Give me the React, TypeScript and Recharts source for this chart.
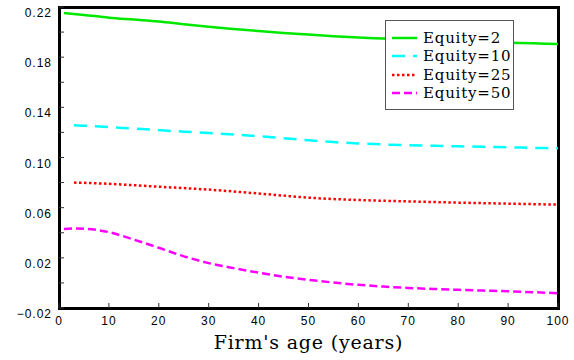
import { LineChart, Line, XAxis, YAxis, Legend, Label } from "recharts";

// firm age grid (years) shared by all four curves
const ages = [1, 3, 5, 10, 15, 20, 25, 30, 35, 40, 45, 50, 55, 60, 65, 70, 75, 80, 85, 90, 95, 100];

const equity2 = [0.2152, 0.2145, 0.2137, 0.2115, 0.21, 0.2085, 0.2063, 0.2043, 0.2025, 0.2008, 0.1993, 0.198, 0.1967, 0.1956, 0.1948, 0.194, 0.1933, 0.1926, 0.192, 0.1915, 0.191, 0.1905];
const equity10 = [null, 0.1257, 0.1254, 0.1243, 0.123, 0.1218, 0.1206, 0.1195, 0.1183, 0.117, 0.1154, 0.1137, 0.1123, 0.1112, 0.1104, 0.1098, 0.1093, 0.1089, 0.1085, 0.1081, 0.1077, 0.1073];
const equity25 = [null, 0.08, 0.0798, 0.079, 0.0779, 0.0767, 0.0756, 0.0744, 0.0729, 0.0713, 0.0696, 0.068, 0.0669, 0.0661, 0.0655, 0.065, 0.0645, 0.064, 0.0636, 0.0632, 0.0628, 0.0624];
const equity50 = [0.043, 0.0434, 0.0432, 0.0405, 0.0345, 0.028, 0.0212, 0.0158, 0.0118, 0.0082, 0.005, 0.0025, 0.0003, -0.0015, -0.0029, -0.004, -0.0048, -0.0055, -0.0061, -0.0067, -0.0074, -0.0082];

const xTicks = [0, 10, 20, 30, 40, 50, 60, 70, 80, 90, 100];
const yTicks = [-0.02, 0, 0.02, 0.04, 0.06, 0.08, 0.1, 0.12, 0.14, 0.16, 0.18, 0.2, 0.22];
const yLabelTicks = [-0.02, 0.02, 0.06, 0.1, 0.14, 0.18, 0.22];

const data = ages.map((age, i) => ({
  age,
  e2: equity2[i],
  e10: equity10[i],
  e25: equity25[i],
  e50: equity50[i],
}));

const series = [
  { key: "e2", name: "Equity=2", color: "#00e800", dash: undefined },
  { key: "e10", name: "Equity=10", color: "#00ffff", dash: "13 8" },
  { key: "e25", name: "Equity=25", color: "#ff0000", dash: "2.5 2.5" },
  { key: "e50", name: "Equity=50", color: "#ff00ff", dash: "8 4" },
];

const W = 574;
const H = 360;
const M = { top: 6, right: 15, bottom: 0, left: 0 };
const Y_AXIS_W = 59;
const X_AXIS_H = 52;
const FRAME_W = 3;

// plotting rectangle, derived from the chart margins and axis sizes
const plotLeft = M.left + Y_AXIS_W;
const plotTop = M.top + 1;
const plotRight = W - M.right - 1;
const plotBottom = H - M.bottom - X_AXIS_H;

const tickFont = "'Liberation Sans', Arial, sans-serif";
const serifFont = "'DejaVu Serif', serif";

const fmt = (v: number) => (v < 0 ? "\u2212" + (-v).toFixed(2) : v.toFixed(2));

const YTick = ({ x, y, payload }: any) => {
  const v = payload.value;
  if (!yLabelTicks.some((t) => Math.abs(t - v) < 1e-9)) return <g />;
  return (
    <text x={x} y={y + 10} textAnchor="end" fontSize={12} letterSpacing={1} fontFamily={tickFont} fill="#000">
      {fmt(v)}
    </text>
  );
};

const XTick = ({ x, y, payload }: any) => (
  <text x={x} y={y + 9} textAnchor="middle" fontSize={12} letterSpacing={1} fontFamily={tickFont} fill="#000">
    {payload.value}
  </text>
);

const LegendBox = () => (
  <div
    style={{
      border: "1px solid #555",
      background: "#fff",
      padding: "8px 0 7px 0",
      width: 127,
      boxSizing: "content-box",
    }}
  >
    {series.map((s) => (
      <div key={s.key} style={{ display: "flex", alignItems: "center", height: 18.3 }}>
        <svg width={25} height={4} style={{ marginLeft: 6, marginRight: 6 }}>
          <line x1={0} y1={2} x2={25} y2={2} stroke={s.color} strokeWidth={2.5} strokeDasharray={s.dash} />
        </svg>
        <span
          style={{ fontFamily: serifFont, fontSize: 15, letterSpacing: 0.8, color: "#000", lineHeight: "18px" }}
        >
          {s.name}
        </span>
      </div>
    ))}
  </div>
);

const TitleLabel = ({ viewBox }: any) => (
  <text
    x={viewBox.x + viewBox.width / 2}
    y={viewBox.y + 41}
    textAnchor="middle"
    fontSize={19}
    letterSpacing={0.8}
    fontFamily={serifFont}
    fill="#000"
  >
    Firm's age (years)
  </text>
);

const tickMark = { stroke: "#333333", strokeWidth: 1 };

export default function App() {
  return (
    <div style={{ position: "absolute", left: 0, top: 0, width: W, height: H, background: "#fff" }}>
      {/* heavy box: a black slab under the chart with a white plotting field on it */}
      <div
        style={{
          position: "absolute",
          left: plotLeft - FRAME_W / 2,
          top: plotTop - FRAME_W / 2,
          width: plotRight - plotLeft + FRAME_W,
          height: plotBottom - plotTop + FRAME_W,
          background: "#000",
        }}
      />
      <div
        style={{
          position: "absolute",
          left: plotLeft + FRAME_W / 2,
          top: plotTop + FRAME_W / 2,
          width: plotRight - plotLeft - FRAME_W,
          height: plotBottom - plotTop - FRAME_W,
          background: "#fff",
        }}
      />
      <div style={{ position: "absolute", left: 0, top: 0 }}>
        <LineChart width={W} height={H} data={data} margin={M}>
          <XAxis
            dataKey="age"
            type="number"
            domain={[0, 100]}
            ticks={xTicks}
            interval={0}
            height={X_AXIS_H}
            tickSize={-5}
            tickMargin={13}
            axisLine={false}
            tickLine={tickMark}
            tick={<XTick />}
            allowDataOverflow
          >
            <Label content={<TitleLabel />} />
          </XAxis>
          <XAxis
            xAxisId="top"
            orientation="top"
            dataKey="age"
            type="number"
            domain={[0, 100]}
            ticks={xTicks}
            interval={0}
            height={1}
            tickSize={-5}
            axisLine={false}
            tickLine={tickMark}
            tick={false}
            allowDataOverflow
          />
          <YAxis
            type="number"
            domain={[-0.02, 0.22]}
            ticks={yTicks}
            interval={0}
            width={Y_AXIS_W}
            tickSize={-5}
            tickMargin={12}
            axisLine={false}
            tickLine={tickMark}
            tick={<YTick />}
            allowDataOverflow
          />
          <YAxis
            yAxisId="right"
            orientation="right"
            type="number"
            domain={[-0.02, 0.22]}
            ticks={yTicks}
            interval={0}
            width={1}
            tickSize={-5}
            axisLine={false}
            tickLine={tickMark}
            tick={false}
            allowDataOverflow
          />
          {series.map((s) => (
            <Line
              key={s.key}
              dataKey={s.key}
              name={s.name}
              type="monotone"
              stroke={s.color}
              strokeWidth={2.5}
              strokeDasharray={s.dash}
              dot={false}
              isAnimationActive={false}
            />
          ))}
          <Legend
            layout="vertical"
            align="center"
            verticalAlign="middle"
            content={<LegendBox />}
            wrapperStyle={{ left: 385, top: 20, width: 129, height: "auto" }}
          />
        </LineChart>
      </div>
    </div>
  );
}
